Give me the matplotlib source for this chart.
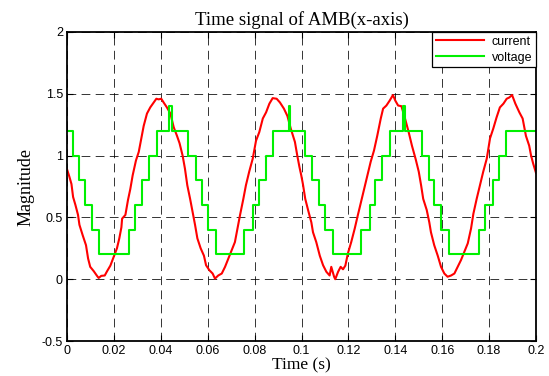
import matplotlib
matplotlib.use('Agg')
import matplotlib.pyplot as plt
import numpy as np

# current (red)
cur_t = [0.0000, 0.0010, 0.0019, 0.0026, 0.0036, 0.0047, 0.0053, 0.0067, 0.0081, 0.0090,
         0.0099, 0.0114, 0.0128, 0.0135, 0.0146, 0.0161, 0.0171, 0.0185, 0.0199, 0.0213,
         0.0223, 0.0232, 0.0235, 0.0249, 0.0260, 0.0270, 0.0280, 0.0294, 0.0306, 0.0317,
         0.0327, 0.0341, 0.0355, 0.0370, 0.0381, 0.0391, 0.0402, 0.0412, 0.0426, 0.0441,
         0.0455, 0.0469, 0.0480, 0.0493, 0.0503, 0.0513, 0.0525, 0.0536, 0.0546, 0.0556,
         0.0570, 0.0584, 0.0593, 0.0607, 0.0621, 0.0631, 0.0645, 0.0660, 0.0674, 0.0688,
         0.0702, 0.0716, 0.0730, 0.0738, 0.0752, 0.0763, 0.0777, 0.0792, 0.0806, 0.0820,
         0.0835, 0.0849, 0.0863, 0.0877, 0.0894, 0.0908, 0.0925, 0.0940, 0.0954, 0.0972,
         0.0982, 0.0991, 0.0999, 0.1006, 0.1016, 0.1028, 0.1042, 0.1049, 0.1063, 0.1078,
         0.1092, 0.1106, 0.1120, 0.1127, 0.1139, 0.1144, 0.1156, 0.1167, 0.1177, 0.1187,
         0.1198, 0.1212, 0.1227, 0.1238, 0.1252, 0.1267, 0.1281, 0.1295, 0.1309, 0.1323,
         0.1338, 0.1348, 0.1362, 0.1376, 0.1390, 0.1400, 0.1412, 0.1426, 0.1440, 0.1457,
         0.1471, 0.1487, 0.1500, 0.1510, 0.1519, 0.1534, 0.1545, 0.1552, 0.1566, 0.1581,
         0.1595, 0.1609, 0.1623, 0.1638, 0.1652, 0.1666, 0.1680, 0.1694, 0.1709, 0.1723,
         0.1733, 0.1747, 0.1761, 0.1775, 0.1790, 0.1804, 0.1818, 0.1832, 0.1846, 0.1861,
         0.1875, 0.1886, 0.1898, 0.1912, 0.1929, 0.1943, 0.1957, 0.1971, 0.1979, 0.1988,
         0.2000]
cur_v = [0.89, 0.83, 0.77, 0.665, 0.60, 0.52, 0.44, 0.355, 0.275, 0.167,
         0.10, 0.065, 0.027, 0.01, 0.027, 0.03, 0.065, 0.11, 0.18, 0.25,
         0.33, 0.42, 0.49, 0.52, 0.64, 0.73, 0.84, 0.96, 1.03, 1.14,
         1.24, 1.34, 1.39, 1.43, 1.46, 1.455, 1.46, 1.43, 1.39, 1.34,
         1.23, 1.16, 1.10, 1.00, 0.894, 0.76, 0.65, 0.54, 0.44, 0.33,
         0.25, 0.19, 0.113, 0.073, 0.046, 0.005, 0.03, 0.046, 0.10, 0.167,
         0.235, 0.30, 0.44, 0.52, 0.65, 0.76, 0.87, 0.975, 1.12, 1.19,
         1.30, 1.35, 1.42, 1.465, 1.46, 1.43, 1.38, 1.32, 1.22, 1.11,
         1.00, 0.91, 0.84, 0.77, 0.65, 0.56, 0.46, 0.38, 0.30, 0.19,
         0.113, 0.06, 0.03, 0.10, 0.02, 0.0, 0.06, 0.10, 0.08, 0.11,
         0.21, 0.30, 0.41, 0.50, 0.61, 0.73, 0.84, 0.95, 1.04, 1.16,
         1.30, 1.38, 1.405, 1.445, 1.49, 1.445, 1.405, 1.40, 1.31, 1.19,
         1.08, 0.97, 0.87, 0.76, 0.65, 0.56, 0.46, 0.38, 0.275, 0.19,
         0.10, 0.046, 0.02, 0.03, 0.046, 0.10, 0.154, 0.22, 0.29, 0.41,
         0.53, 0.65, 0.76, 0.87, 0.975, 1.14, 1.22, 1.31, 1.39, 1.42,
         1.46, 1.47, 1.49, 1.42, 1.35, 1.30, 1.16, 1.08, 1.00, 0.935,
         0.86]

# voltage (green) staircase: switching times and the level held from each
volt_t = [0.0, 0.00256, 0.0050, 0.0078, 0.0107, 0.0135, 0.0263, 0.0289, 0.0320, 0.0348,
          0.0384, 0.0436, 0.0448, 0.0517, 0.0550, 0.0574, 0.0603, 0.0635, 0.0756, 0.0792,
          0.0820, 0.0849, 0.0877, 0.0946, 0.0950, 0.1016, 0.1045, 0.1073, 0.1099, 0.1134,
          0.1255, 0.1291, 0.1315, 0.1343, 0.1376, 0.1432, 0.1442, 0.1514, 0.1545, 0.1566,
          0.1595, 0.1630, 0.1756, 0.1784, 0.1815, 0.1841, 0.1872, 0.2]
volt_v = [1.2, 1.0, 0.8, 0.6, 0.4, 0.2, 0.4, 0.6, 0.8, 1.0,
          1.2, 1.4, 1.2, 1.0, 0.8, 0.6, 0.4, 0.2, 0.4, 0.6,
          0.8, 1.0, 1.2, 1.4, 1.2, 1.0, 0.8, 0.6, 0.4, 0.2,
          0.4, 0.6, 0.8, 1.0, 1.2, 1.4, 1.2, 1.0, 0.8, 0.6,
          0.4, 0.2, 0.4, 0.6, 0.8, 1.0, 1.2, 1.2]

xticks = [0, 0.02, 0.04, 0.06, 0.08, 0.1, 0.12, 0.14, 0.16, 0.18, 0.2]
xticklabels = ['0', '0.02', '0.04', '0.06', '0.08', '0.1', '0.12', '0.14', '0.16', '0.18', '0.2']
yticks = [-0.5, 0, 0.5, 1, 1.5, 2]
yticklabels = ['-0.5', '0', '0.5', '1', '1.5', '2']

sans = 'Liberation Sans'
serif = 'Liberation Serif'

fig = plt.figure(figsize=(5.49, 3.76), dpi=100)
ax = fig.add_axes([67 / 549, 35 / 376, 469 / 549, 309 / 376])

ax.plot(cur_t, cur_v, color='#ff0000', lw=1.5, label='current')
ax.plot(volt_t, volt_v, color='#00f000', lw=1.5, drawstyle='steps-post', label='voltage')

ax.set_xlim(0, 0.2)
ax.set_ylim(-0.5, 2)
ax.set_xticks(xticks)
ax.set_xticklabels(xticklabels, fontfamily=sans, fontsize=9)
ax.set_yticks(yticks)
ax.set_yticklabels(yticklabels, fontfamily=sans, fontsize=9)
ax.tick_params(direction='in', top=True, right=True, length=4, width=0.8, pad=3)

ax.set_axisbelow(True)
ax.grid(True, color='k', lw=0.7, linestyle=(0, (9, 5.5)), alpha=0.8)
for s in ax.spines.values():
    s.set_linewidth(1.3)

ax.set_title('Time signal of AMB(x-axis)', fontfamily=serif, fontsize=13.5, pad=5)
ax.set_xlabel('Time (s)', fontfamily=serif, fontsize=12.5, labelpad=0)
ax.set_ylabel('Magnitude', fontfamily=serif, fontsize=13, labelpad=5)

leg = ax.legend(loc='upper right', prop={'family': sans, 'size': 9}, fancybox=False,
                framealpha=1, edgecolor='k', borderaxespad=0, handlelength=3.9,
                handletextpad=0.6, labelspacing=0.3, borderpad=0.3)
leg.get_frame().set_linewidth(0.9)

fig.savefig('out.png', dpi=100)
